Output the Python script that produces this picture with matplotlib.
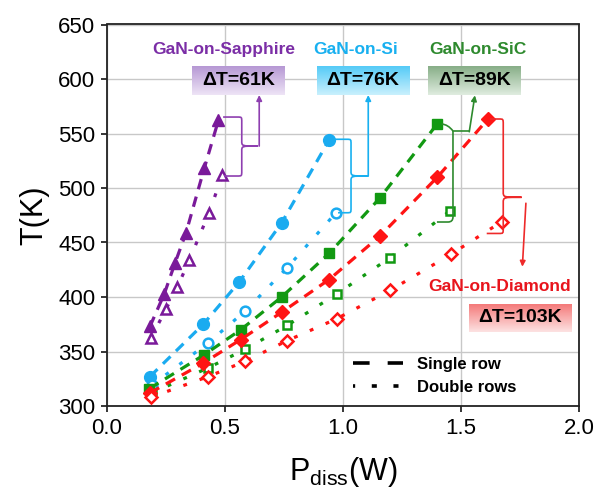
import matplotlib
matplotlib.use('Agg')
import matplotlib.pyplot as plt
import numpy as np
from matplotlib.path import Path
from matplotlib.patches import PathPatch
from matplotlib.lines import Line2D
from matplotlib.colors import to_rgb

plt.rcParams['font.family'] = ['Liberation Sans', 'DejaVu Sans']
plt.rcParams['mathtext.fontset'] = 'custom'
plt.rcParams['mathtext.rm'] = 'Liberation Sans'
plt.rcParams['mathtext.it'] = 'Liberation Sans:italic'

# ---------------- data ----------------
sap_single_p = [0.182, 0.243, 0.288, 0.335, 0.412, 0.472]
sap_single_t = [373, 403, 431, 459, 518, 562]
sap_double_p = [0.186, 0.250, 0.298, 0.349, 0.432, 0.489]
sap_double_t = [362, 389, 409, 434, 477, 512]

si_single_p = [0.182, 0.408, 0.561, 0.740, 0.941]
si_single_t = [327, 375, 414, 468, 544]
si_double_p = [0.190, 0.429, 0.585, 0.764, 0.969]
si_double_t = [319, 358, 387, 427, 477]

sic_single_p = [0.180, 0.412, 0.567, 0.740, 0.941, 1.157, 1.400]
sic_single_t = [316, 347, 370, 400, 440, 491, 559]
sic_double_p = [0.190, 0.429, 0.585, 0.764, 0.975, 1.199, 1.453]
sic_double_t = [312, 335, 352, 374, 403, 436, 479]

dia_single_p = [0.182, 0.405, 0.567, 0.740, 0.941, 1.157, 1.400, 1.613]
dia_single_t = [312, 339, 361, 386, 416, 456, 510, 563]
dia_double_p = [0.186, 0.429, 0.585, 0.764, 0.973, 1.199, 1.456, 1.672]
dia_double_t = [308, 327, 341, 360, 380, 406, 439, 469]

labels = ['GaN-on-Sapphire', 'GaN-on-Si', 'GaN-on-SiC', 'GaN-on-Diamond']
delta_labels = ['ΔT=61K', 'ΔT=76K', 'ΔT=89K', 'ΔT=103K']
x_ticks = [0.0, 0.5, 1.0, 1.5, 2.0]
y_ticks = [300, 350, 400, 450, 500, 550, 600, 650]

# ---------------- style ----------------
c_pur = '#7a1a9a'
c_blu = '#1aabf0'
c_grn = '#129912'
c_red = '#ff1414'
t_pur = '#7b2ea6'
t_blu = '#18b0f0'
t_grn = '#2e8a2e'
t_red = '#e8141c'

fig = plt.figure(figsize=(5.97, 4.94), dpi=100)
ax = fig.add_axes([107/597, 1-406/494, 472/597, 381.5/494])
ax.set_axisbelow(True)

LW = 2.3
dash = (3.3, 2.4)
dot = (1.2, 4.2)

series = [
    (sap_single_p, sap_single_t, sap_double_p, sap_double_t, '^', c_pur, 9, 7.5),
    (si_single_p, si_single_t, si_double_p, si_double_t, 'o', c_blu, 8.5, 7),
    (sic_single_p, sic_single_t, sic_double_p, sic_double_t, 's', c_grn, 7, 5.5),
    (dia_single_p, dia_single_t, dia_double_p, dia_double_t, 'D', c_red, 7, 6),
]
for sp, st, dp, dt, m, c, ms1, ms2 in series:
    ax.plot(sp, st, linestyle=(0, dash), lw=LW, color=c, marker=m, ms=ms1,
            mfc=c, mec=c, dash_capstyle='butt', zorder=3)
    ax.plot(dp, dt, linestyle=(0, dot), lw=LW, color=c, marker=m, ms=ms2,
            mfc='white', mec=c, mew=1.8, dash_capstyle='butt', zorder=3)

ax.set_xlim(0, 2.0)
ax.set_ylim(300, 650)
ax.set_xticks(x_ticks)
ax.set_xticklabels([f'{v:.1f}' for v in x_ticks])
ax.set_yticks(y_ticks)
ax.grid(True, color='#c8c8c8', lw=1.0)
for s in ax.spines.values():
    s.set_linewidth(1.3)
    s.set_color('#222222')
ax.tick_params(direction='out', length=4.5, width=1.1, labelsize=16, pad=4)
ax.set_xlabel(r'P$_{\mathrm{diss}}$(W)', fontsize=22, labelpad=12)
ax.set_ylabel('T(K)', fontsize=22, labelpad=6)

# ---------------- annotations ----------------
def gradient_box(x0, x1, y0, y1, ctop, cbot, text):
    n = 64
    a = np.array(to_rgb(ctop)); b = np.array(to_rgb(cbot))
    grad = np.linspace(0, 1, n)[:, None, None]
    img = a[None, None, :] * (1 - grad) + b[None, None, :] * grad
    ax.imshow(img, extent=(x0, x1, y0, y1), origin='upper', aspect='auto',
              zorder=4, interpolation='bilinear')
    ax.text((x0 + x1) / 2, (y0 + y1) / 2, text, ha='center', va='center',
            fontsize=14, fontweight='bold', color='black', zorder=5)

box_y0, box_y1 = 585.5, 611.8
gradient_box(0.361, 0.751, box_y0, box_y1, '#b698d4', '#eee4f6', delta_labels[0])
gradient_box(0.889, 1.281, box_y0, box_y1, '#55cbf7', '#c9f0fd', delta_labels[1])
gradient_box(1.361, 1.753, box_y0, box_y1, '#87ae87', '#dfecdf', delta_labels[2])
gradient_box(1.535, 1.969, 368.2, 393.6, '#f47a7a', '#fde2e2', delta_labels[3])

lab_kw = dict(ha='center', va='center', fontsize=12.5, fontweight='bold', zorder=5)
ax.text(0.493, 626.8, labels[0], color=t_pur, **lab_kw)
ax.text(1.055, 626.8, labels[1], color=t_blu, **lab_kw)
ax.text(1.572, 626.8, labels[2], color=t_grn, **lab_kw)
ax.text(1.663, 409.4, labels[3], color=t_red, **lab_kw)


def brace(xt, yt, xb, yb, xs, xtip, ytip, color, rx=0.018, ry=4.5):
    verts = [(xt, yt), (xs - rx, yt),
             (xs, yt), (xs, yt), (xs, yt - ry),
             (xs, ytip + ry),
             (xs, ytip), (xs, ytip), (xtip, ytip),
             (xs, ytip), (xs, ytip), (xs, ytip - ry),
             (xs, yb + ry),
             (xs, yb), (xs, yb), (xs - rx, yb),
             (xb, yb)]
    codes = [Path.MOVETO, Path.LINETO,
             Path.CURVE4, Path.CURVE4, Path.CURVE4,
             Path.LINETO,
             Path.CURVE4, Path.CURVE4, Path.CURVE4,
             Path.CURVE4, Path.CURVE4, Path.CURVE4,
             Path.LINETO,
             Path.CURVE4, Path.CURVE4, Path.CURVE4,
             Path.LINETO]
    ax.add_patch(PathPatch(Path(verts, codes), fill=False, ec=color, lw=1.2, zorder=4))


def arrow(x0, y0, x1, y1, color):
    ax.annotate('', xy=(x1, y1), xytext=(x0, y0),
                arrowprops=dict(arrowstyle='-|>', color=color, lw=1.2,
                                mutation_scale=8, shrinkA=0, shrinkB=0), zorder=4)

brace(0.492, 565.1, 0.496, 511.0, 0.571, 0.640, 538.5, '#8e3fb0')
arrow(0.645, 538.5, 0.645, 585.3, '#8e3fb0')

brace(0.959, 544.7, 0.979, 477.3, 1.034, 1.107, 511.0, t_blu)
arrow(1.107, 511.0, 1.107, 585.3, t_blu)

# green brace (tip near top)
ax.add_patch(PathPatch(Path([(1.418, 558.7), (1.445, 558.3), (1.466, 552.3), (1.538, 552.3)],
                            [Path.MOVETO, Path.CURVE3, Path.CURVE3, Path.LINETO]),
                       fill=False, ec=t_grn, lw=1.2, zorder=4))
ax.add_patch(PathPatch(Path([(1.466, 552.3), (1.466, 473.4), (1.466, 468.8), (1.445, 468.8), (1.398, 468.8)],
                            [Path.MOVETO, Path.LINETO, Path.CURVE3, Path.CURVE3, Path.LINETO]),
                       fill=False, ec=t_grn, lw=1.2, zorder=4))
arrow(1.535, 551.6, 1.559, 585.0, t_grn)

brace(1.623, 563.3, 1.609, 458.3, 1.679, 1.757, 491.5, '#ee2a2a', ry=5)
arrow(1.775, 486.0, 1.760, 427.8, '#ee2a2a')

# ---------------- legend ----------------
h1 = Line2D([], [], color='black', lw=2.6, linestyle=(0, (4.6, 5.0)), dash_capstyle='butt')
h2 = Line2D([], [], color='black', lw=2.6, linestyle=(0.8, (1.4, 4.6)), dash_capstyle='butt')
leg = ax.legend([h1, h2], ['Single row', 'Double rows'], loc='upper left',
                bbox_to_anchor=((353 - 107) / 472, (406 - 357) / 381.5),
                frameon=False, borderpad=0, borderaxespad=0, handlelength=3.0,
                handletextpad=0.85, labelspacing=0.45,
                prop=dict(size=12, weight='bold'))
leg.set_zorder(6)

fig.savefig('out.png', dpi=100)
